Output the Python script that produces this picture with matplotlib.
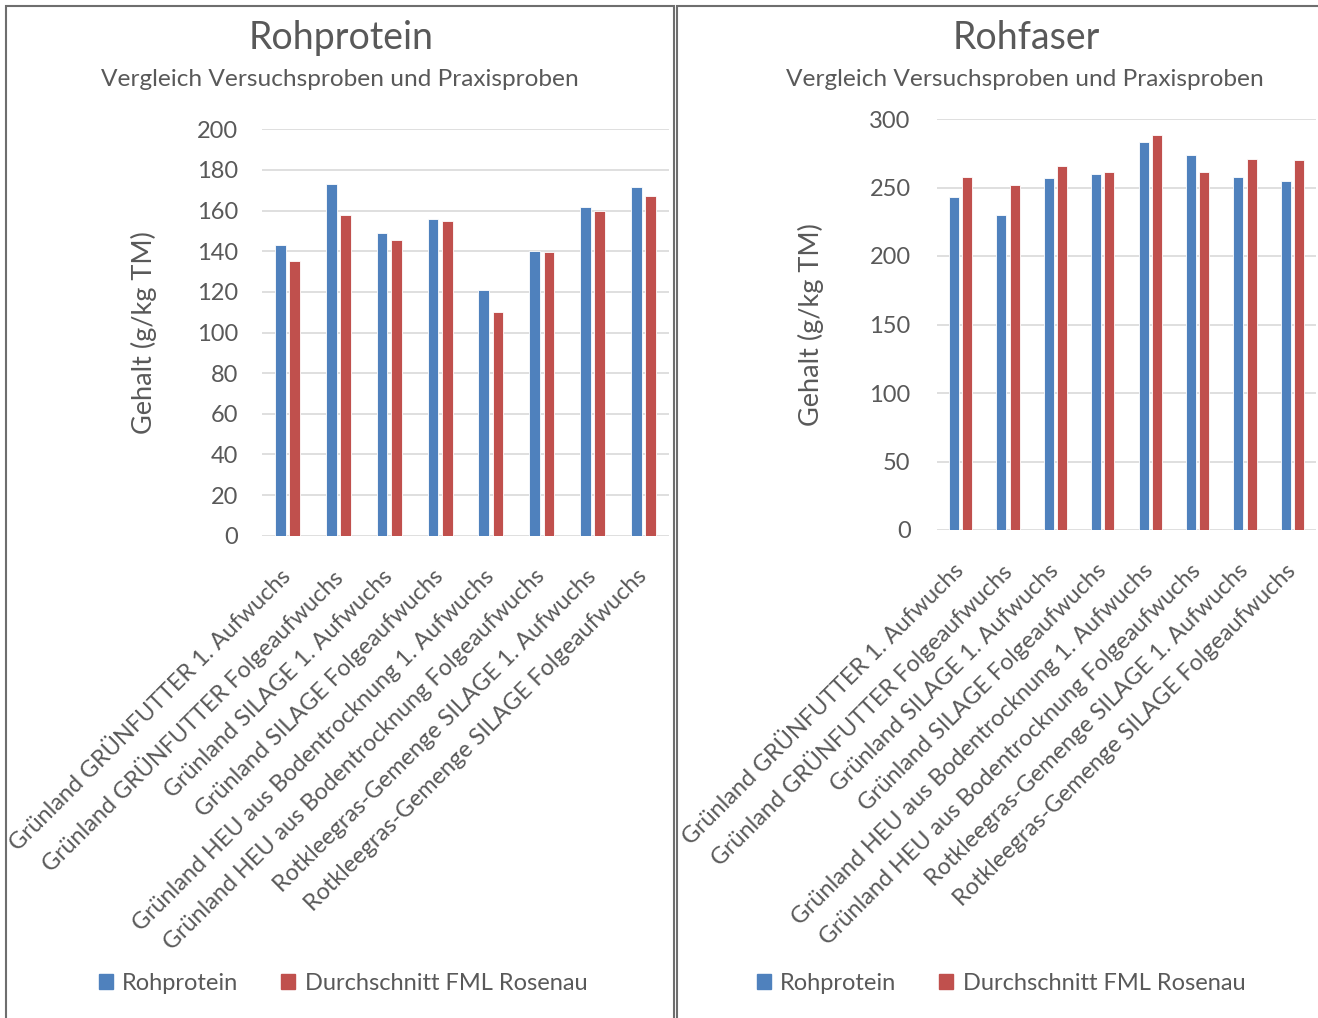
import matplotlib.pyplot as plt
import numpy as np
from matplotlib.patches import Rectangle, Patch

# Kategorien (beide Diagramme gleich)
kategorien = [
    "Grünland GRÜNFUTTER 1. Aufwuchs",
    "Grünland GRÜNFUTTER Folgeaufwuchs",
    "Grünland SILAGE 1. Aufwuchs",
    "Grünland SILAGE Folgeaufwuchs",
    "Grünland HEU aus Bodentrocknung 1. Aufwuchs",
    "Grünland HEU aus Bodentrocknung Folgeaufwuchs",
    "Rotkleegras-Gemenge SILAGE 1. Aufwuchs",
    "Rotkleegras-Gemenge SILAGE Folgeaufwuchs",
]

# Rohprotein (g/kg TM)
protein_versuch = [143, 173, 149, 156, 121, 140, 162, 171.5]
protein_fml = [135, 158, 145.5, 155, 110, 139.5, 160, 167]

# Rohfaser (g/kg TM)
faser_versuch = [243, 230, 257, 259.5, 283, 274, 258, 254.5]
faser_fml = [258, 252, 266, 261, 288, 261, 271, 270]

serien = ["Rohprotein", "Durchschnitt FML Rosenau"]
blau = '#4F81BD'
rot = '#C0504D'
grau = '#595959'

W, H = 1318, 1018
plt.rcParams['font.family'] = ['Lato', 'DejaVu Sans']

fig = plt.figure(figsize=(W / 100, H / 100), dpi=100)


def px_axes(x0, x1, ytop, ybot):
    return fig.add_axes([x0 / W, 1 - ybot / H, (x1 - x0) / W, (ybot - ytop) / H])


def zeichne(ax, v1, v2, ymax, step, ypad):
    x = np.arange(len(kategorien))
    b = 0.21
    ax.bar(x - 0.14, v1, b, color=blau, edgecolor='white', linewidth=0.6, zorder=3)
    ax.bar(x + 0.14, v2, b, color=rot, edgecolor='white', linewidth=0.6, zorder=3)
    ax.set_xlim(-0.5, len(kategorien) - 0.5)
    ax.set_ylim(0, ymax)
    ax.set_yticks(np.arange(0, ymax + 1, step))
    ax.grid(axis='y', color='#d9d9d9', linewidth=1.2, zorder=0)
    for s in ax.spines.values():
        s.set_visible(False)
    ax.tick_params(axis='both', length=0, colors=grau, labelsize=17)
    ax.tick_params(axis='y', pad=ypad)
    ax.set_xticks(x)
    ax.set_xticklabels(kategorien, rotation=45, ha='right', va='center',
                       rotation_mode='anchor', fontsize=16.8, color=grau)
    ax.tick_params(axis='x', pad=27)
    ax.set_ylabel("Gehalt (g/kg TM)", fontsize=19.5, color=grau)


ax1 = px_axes(262, 669, 129.3, 535.7)
zeichne(ax1, protein_versuch, protein_fml, 200, 20, 17)
ax1.yaxis.set_label_coords((157 - 262) / 407, 0.5)

ax2 = px_axes(937, 1316, 119, 530)
zeichne(ax2, faser_versuch, faser_fml, 300, 50, 19)
ax2.yaxis.set_label_coords((824 - 937) / 379, 0.5)

# Titel
fig.text(341 / W, 1 - 38 / H, "Rohprotein", fontsize=27, color=grau, ha='center', va='center')
fig.text(340 / W, 1 - 80 / H, "Vergleich Versuchsproben und Praxisproben", fontsize=17.6,
         color=grau, ha='center', va='center')
fig.text(1026 / W, 1 - 38 / H, "Rohfaser", fontsize=27, color=grau, ha='center', va='center')
fig.text(1025 / W, 1 - 80 / H, "Vergleich Versuchsproben und Praxisproben", fontsize=17.6,
         color=grau, ha='center', va='center')

# Legenden
handles = [Patch(color=blau, label=serien[0]), Patch(color=rot, label=serien[1])]
for cx in (343, 1001):
    fig.legend(handles=handles, loc='center', bbox_to_anchor=(cx / W, 1 - 983 / H),
               ncol=2, frameon=False, fontsize=17, labelcolor=grau,
               handlelength=0.6, handleheight=0.6, handletextpad=0.4, columnspacing=1.8)

# Rahmen der beiden Diagramme
fig.patches.append(Rectangle((6 / W, -0.01), 668 / W, 1 - 6 / H + 0.01, transform=fig.transFigure,
                             fill=False, edgecolor='#6e6e6e', linewidth=1.5))
fig.patches.append(Rectangle((677 / W, -0.01), 650 / W, 1 - 6 / H + 0.01, transform=fig.transFigure,
                             fill=False, edgecolor='#6e6e6e', linewidth=1.5))

fig.savefig('out.png', dpi=100)
